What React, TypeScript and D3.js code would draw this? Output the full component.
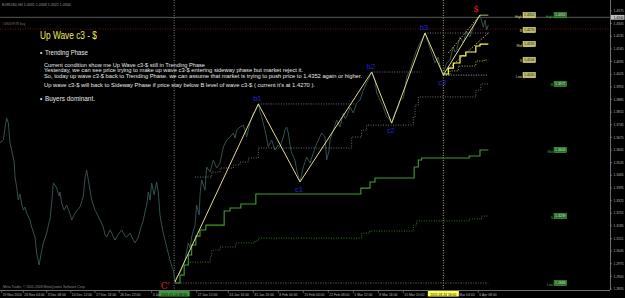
import React from "react";
import * as d3 from "d3";

const W = 625;
const H = 298;
const PLOT_R = 610;
const PLOT_B = 290;

// Close prices (H4 bar index, price)
const priceBars = [0,4,6,8,10,12,14,17,18,20,22,24,26,28,30,32,36,38,42,44,47,49,52,54,56,59,60,62,64,66,68,71,72,74,77,80,84,86,90,94,96,100,102,104,106,108,110,114,116,120,124,126,128,132,134,138,140,144,146,150,152,156,160,162,166,169,172,174,176,178,180,182,185,186,188,190,192,194,196,198,200,204,206,208,210,212,216,220,222,226,228,230,234,236,239,240,242,246,248,252,256,260,264,268,272,276,280,282,284,288,292,294,296,300,304,307,310,312,314,318,322,324,326,330,334,336,340,342,344,346,348,350,354,356,360,364,366,368,372,376,378,382,386,390,392,395,396,400,402,404,408,412,414,416,420,424,428,432,436,440,444,446,450,452,456,460,462,464,468,470,474,478,480,484,486,488,492,496,499,504,508,510,514,516,518,522,526,528,532,534,536,540,544,546,548,552,556,558,560,564,568,570,572,576,580,582,584,586];
const priceClose = [1.3644,1.3660,1.3727,1.3782,1.3754,1.3644,1.3605,1.3538,1.3455,1.3400,1.3328,1.3361,1.3306,1.3272,1.3289,1.3256,1.3217,1.3178,1.3123,1.3034,1.2968,1.3023,1.3090,1.3117,1.3145,1.3206,1.3217,1.3311,1.3422,1.3411,1.3394,1.3350,1.3372,1.3311,1.3272,1.3300,1.3250,1.3217,1.3256,1.3278,1.3289,1.3350,1.3450,1.3494,1.3439,1.3383,1.3328,1.3272,1.3256,1.3217,1.3178,1.3134,1.3123,1.3162,1.3145,1.3106,1.3123,1.3151,1.3162,1.3128,1.3123,1.3145,1.3106,1.3090,1.3123,1.3173,1.3217,1.3261,1.3300,1.3372,1.3328,1.3422,1.3356,1.3383,1.3428,1.3367,1.3245,1.3189,1.3145,1.3106,1.3068,1.2996,1.2962,1.2940,1.2874,1.2901,1.2924,1.2968,1.2996,1.3090,1.3062,1.3123,1.3189,1.3300,1.3245,1.3356,1.3439,1.3383,1.3511,1.3483,1.3550,1.3505,1.3533,1.3622,1.3660,1.3677,1.3699,1.3671,1.3716,1.3732,1.3743,1.3716,1.3677,1.3754,1.3810,1.3826,1.3860,1.3815,1.3788,1.3716,1.3622,1.3644,1.3660,1.3605,1.3633,1.3622,1.3677,1.3716,1.3732,1.3699,1.3633,1.3588,1.3550,1.3494,1.3428,1.3511,1.3538,1.3566,1.3533,1.3588,1.3616,1.3660,1.3699,1.3677,1.3550,1.3605,1.3660,1.3716,1.3743,1.3771,1.3732,1.3810,1.3782,1.3788,1.3843,1.3810,1.3865,1.3882,1.3937,1.3976,1.4015,1.4037,1.3993,1.3921,1.3882,1.3843,1.3815,1.3788,1.3771,1.3754,1.3810,1.3843,1.3882,1.3893,1.3948,1.4009,1.4048,1.4104,1.4148,1.4198,1.4231,1.4253,1.4198,1.4170,1.4142,1.4087,1.4120,1.4070,1.4020,1.4059,1.4087,1.4104,1.4176,1.4148,1.4159,1.4231,1.4198,1.4236,1.4259,1.4231,1.4286,1.4303,1.4325,1.4352,1.4286,1.4325,1.4270,1.4297];

// Wave pivots
const pivotNames = ["C'", "b1", "c1", "b2", "c2", "b3", "c3", "$"];
const pivotBars = [210, 310, 360, 446, 470, 510, 532, 576];
const pivotPrices = [1.2874, 1.3860, 1.3428, 1.4037, 1.3754, 1.4253, 1.4020, 1.4352];

// Stair (trailing level) lines
const greenStepBars = [210,216,221,226,230,235,240,247,269,276,289,307,433,444,450,497,502,506,563,576,586];
const greenStepLevels = [1.2868,1.2912,1.2968,1.3023,1.3079,1.3128,1.3162,1.3189,1.3267,1.3284,1.3306,1.3361,1.3394,1.3428,1.3450,1.3511,1.3550,1.3561,1.3572,1.3605,1.3605];
const greenDotBars = [228,252,254,264,283,306,310,434,444,496,500,563,578,586];
const greenDotLevels = [1.2984,1.3012,1.3051,1.3068,1.3090,1.3101,1.3117,1.3145,1.3156,1.3189,1.3212,1.3223,1.3239,1.3239];
const grayDotBars = [234,254,264,280,288,298,310,422,434,440,496,498,502,571,577,586];
const grayDotLevels = [1.3455,1.3483,1.3505,1.3522,1.3538,1.3561,1.3616,1.3677,1.3716,1.3743,1.3788,1.3854,1.3899,1.3937,1.3971,1.3971];
const yellowStepBars = [532,538,544,552,559,571,576,586];
const yellowStepLevels = [1.4026,1.4059,1.4087,1.4126,1.4148,1.4181,1.4192,1.4192];
const yellowDotBars = [532,540,550,571,581,586];
const yellowDotLevels = [1.4020,1.4043,1.4070,1.4098,1.4104,1.4104];

// Horizontal pivot levels
const levelStart = [310, 446, 510, 532, 210];
const levelEnd = [426, 504, 586, 586, 586];
const levelPrice = [1.3860, 1.4037, 1.4253, 1.4020, 1.2868];

// Channel segments of last wave
const channelStart = [538, 534, 576];
const channelStartPrice = [1.4142, 1.4037, 1.4352];
const channelEnd = [576, 586, 586];
const channelEndPrice = [1.4353, 1.4253, 1.4352];

// Level boxes
const boxNames = ["High", "B", "Mid", "S", "Low"];
const yellowBoxValues = [1.4352, 1.4270, 1.4192, 1.4104, 1.4020];
const greenBoxValues = [1.4352, 1.3971, 1.3605, 1.3239, 1.2868];

const bidPrice = 1.4340;
const orderPrice = 1.4275;
const markerBars = [209, 532];
const markerLabels = ["2011.01.10 08:00", "2011.03.24 16:00"];

const yTickLabels = ["1.2835","1.2905","1.2975","1.3045","1.3115","1.3185","1.3255","1.3325","1.3395","1.3465","1.3535","1.3605","1.3675","1.3745","1.3815","1.3885","1.3955","1.4025","1.4095","1.4165","1.4235","1.4305","1.4375"];
const xTickBars = [2, 28, 56, 85, 114, 143, 182, 236, 274, 304, 334, 364, 394, 424, 454, 484, 550, 574];
const xTickLabels = ["19 Nov 2010","26 Nov 04:00","3 Dec 08:00","10 Dec 12:00","17 Dec 16:00","26 Dec 22:00","3 Ja","17 Jan 12:00","24 Jan 16:00","31 Jan 20:00","8 Feb 00:00","15 Feb 04:00","22 Feb 08:00","1 Mar 12:00","8 Mar 16:00","15 Mar 20:00","Mar 04:00","6 Apr 08:00"];

const FONT = "'Liberation Sans', Arial, sans-serif";

export default function App() {
  const x = d3.scaleLinear().domain([0, 732]).range([0, 610]);
  const y = d3.scaleLinear().domain([1.2835, 1.4375]).range([289, 11]);

  const line = d3.line<[number, number]>().x(d => x(d[0])).y(d => y(d[1]));
  const step = d3.line<[number, number]>().x(d => x(d[0])).y(d => y(d[1])).curve(d3.curveStepAfter);

  const pricePts = priceBars.map((b, i) => [b, priceClose[i]] as [number, number]);
  const zig = pivotBars.map((b, i) => [b, pivotPrices[i]] as [number, number]);
  const pair = (bs: number[], ls: number[]) => bs.map((b, i) => [b, ls[i]] as [number, number]);

  return (
    <svg width={W} height={H} style={{ display: "block", position: "absolute", left: 0, top: 0, background: "#000" }}>
      <rect x={0} y={0} width={W} height={H} fill="#000" />
      <text x={2} y={5.5} fontSize={3.6} fill="#9a9a9a" fontFamily={FONT}>EURUSD,H4  1.4331 1.4348 1.4322 1.4340</text>
      <line x1={0} x2={PLOT_R} y1={y(bidPrice)} y2={y(bidPrice)} stroke="#6e6e6e" strokeWidth={0.8} />
      <line x1={0} x2={PLOT_R} y1={y(orderPrice)} y2={y(orderPrice)} stroke="#8b1a1a" strokeWidth={0.8} strokeDasharray="1,1.5" />
      <text x={2} y={25} fontSize={3.4} fill="#8a6a6a" fontFamily={FONT}>#18059978 buy</text>

      <line x1={x(markerBars[0])} x2={x(markerBars[0])} y1={0} y2={PLOT_B} stroke="#9a9a9a" strokeWidth={0.8} strokeDasharray="1,1.5" />
      <line x1={x(markerBars[1])} x2={x(markerBars[1])} y1={0} y2={PLOT_B} stroke="#d8d878" strokeWidth={0.8} strokeDasharray="1,1.5" />

      <path d={line(pricePts) || ""} fill="none" stroke="#355050" strokeWidth={1} />

      {levelStart.map((s, i) => (
        <line key={"lv" + i} x1={x(s)} x2={x(levelEnd[i])} y1={y(levelPrice[i])} y2={y(levelPrice[i])}
          stroke={i === 3 ? "#d0d0d0" : i === 4 ? "#4d6a4d" : "#8a8a8a"} strokeWidth={0.8}
          strokeDasharray={i === 4 ? "2,1,1,1" : "1,1.5"} />
      ))}

      <path d={step(pair(grayDotBars, grayDotLevels)) || ""} fill="none" stroke="#8a8a8a" strokeWidth={0.8} strokeDasharray="1,1.5" />
      <path d={step(pair(greenDotBars, greenDotLevels)) || ""} fill="none" stroke="#3f9a2f" strokeWidth={0.8} strokeDasharray="1,1.5" />
      <path d={step(pair(greenStepBars, greenStepLevels)) || ""} fill="none" stroke="#3f9f2f" strokeWidth={1.1} />
      <path d={step(pair(yellowDotBars, yellowDotLevels)) || ""} fill="none" stroke="#e8e860" strokeWidth={0.8} strokeDasharray="1,1.5" />
      <path d={step(pair(yellowStepBars, yellowStepLevels)) || ""} fill="none" stroke="#ffff5a" strokeWidth={1.2} />
      {channelStart.map((s, i) => (
        <line key={"ch" + i} x1={x(s)} x2={x(channelEnd[i])} y1={y(channelStartPrice[i])} y2={y(channelEndPrice[i])}
          stroke="#e6e690" strokeWidth={0.8} strokeDasharray={i === 2 ? undefined : "1.5,1.5"} />
      ))}

      <path d={line(zig) || ""} fill="none" stroke="#e4dc8a" strokeWidth={1} />

      {pivotNames.map((n, i) => {
        const px = x(pivotBars[i]);
        const py = y(pivotPrices[i]);
        if (n === "C'") return <text key={n} x={px - 5} y={py + 7} textAnchor="end" fontSize={9} fill="#e02020" fontFamily="'DejaVu Serif', serif">{n}</text>;
        if (n === "$") return <text key={n} x={px - 4} y={py - 3} textAnchor="middle" fontSize={9} fill="#e02020" fontFamily="'DejaVu Serif', serif">{n}</text>;
        const isB = n[0] === "b";
        return <text key={n} x={px - 1} y={isB ? py - 3 : py + 10} textAnchor="middle" fontSize={7.5} fill="#2424d0" fontFamily={FONT}>{n}</text>;
      })}

      {boxNames.map((n, i) => (
        <g key={"yb" + i}>
          <text x={522} y={y(yellowBoxValues[i]) + 2.5} textAnchor="end" fontSize={3.4} fill="#d8d870" fontFamily={FONT}>{n}</text>
          <rect x={523} y={y(yellowBoxValues[i]) - 2.7} width={12.5} height={5.4} fill="#bdbd6a" stroke="#e8e890" strokeWidth={0.5} />
          <text x={529.25} y={y(yellowBoxValues[i]) + 1.2} textAnchor="middle" fontSize={3.4} fill="#202000" fontFamily={FONT}>{yellowBoxValues[i].toFixed(4)}</text>
        </g>
      ))}
      {boxNames.map((n, i) => (
        <g key={"gb" + i}>
          <text x={553} y={y(greenBoxValues[i]) + 2.5} textAnchor="end" fontSize={3.4} fill="#3fa03f" fontFamily={FONT}>{n}</text>
          <rect x={554} y={y(greenBoxValues[i]) - 2.7} width={12.5} height={5.4} fill="#2a6a2a" stroke="#4fb04f" strokeWidth={0.5} />
          <text x={560.25} y={y(greenBoxValues[i]) + 1.2} textAnchor="middle" fontSize={3.4} fill="#cfe8cf" fontFamily={FONT}>{greenBoxValues[i].toFixed(4)}</text>
        </g>
      ))}

      <text x={40} y={39} fontSize={10} fill="#eeee55" fontFamily={FONT} textLength={57} lengthAdjust="spacingAndGlyphs">Up Wave c3 - $</text>
      <text x={40} y={55} fontSize={6.5} fill="#e8e8e8" fontFamily={FONT}>•</text>
      <text x={45} y={55} fontSize={6.5} fill="#e8e8e8" fontFamily={FONT} textLength={43} lengthAdjust="spacingAndGlyphs">Trending Phase</text>
      <text x={44} y={66.5} fontSize={5.8} fill="#e8e8e8" fontFamily={FONT} textLength={161} lengthAdjust="spacingAndGlyphs">Current condition show me Up Wave c3-$ still in Trending Phase</text>
      <text x={44} y={72} fontSize={5.8} fill="#e8e8e8" fontFamily={FONT} textLength={259} lengthAdjust="spacingAndGlyphs">Yesterday, we can see price trying to make up wave c3-$ entering sideway phase but market reject it.</text>
      <text x={44} y={77.5} fontSize={5.8} fill="#e8e8e8" fontFamily={FONT} textLength={318} lengthAdjust="spacingAndGlyphs">So, today up wave c3-$ back to Trending Phase. we can assume that market is trying to push price to 1.4352 again or higher.</text>
      <text x={44} y={87} fontSize={5.8} fill="#e8e8e8" fontFamily={FONT} textLength={271} lengthAdjust="spacingAndGlyphs">Up wave c3-$ will back to Sideway Phase if price stay below B level of wave c3-$ ( current it's at 1.4270 ).</text>
      <text x={40} y={101} fontSize={6.5} fill="#e8e8e8" fontFamily={FONT}>•</text>
      <text x={45} y={101} fontSize={6.5} fill="#e8e8e8" fontFamily={FONT} textLength={50} lengthAdjust="spacingAndGlyphs">Buyers dominant.</text>

      <text x={3} y={288} fontSize={3.4} fill="#8a8a8a" fontFamily={FONT}>Meta Trader, © 2001-2008 MetaQuotes Software Corp.</text>

      <line x1={PLOT_R + 0.5} x2={PLOT_R + 0.5} y1={0} y2={PLOT_B} stroke="#8a8a8a" strokeWidth={0.8} />
      {yTickLabels.map((t) => (
        <g key={t}>
          <line x1={PLOT_R} x2={PLOT_R + 2} y1={y(+t)} y2={y(+t)} stroke="#8a8a8a" strokeWidth={0.6} />
          <text x={PLOT_R + 3.5} y={y(+t) + 1.2} fontSize={3.3} fill="#b8b8b8" fontFamily={FONT}>{t}</text>
        </g>
      ))}
      <rect x={PLOT_R + 1} y={y(bidPrice) - 2.4} width={13.5} height={4.8} fill="#c0c0c0" />
      <text x={PLOT_R + 3.5} y={y(bidPrice) + 1.2} fontSize={3.3} fill="#000" fontFamily={FONT}>{bidPrice.toFixed(4)}</text>

      <line x1={0} x2={PLOT_R} y1={PLOT_B + 0.5} y2={PLOT_B + 0.5} stroke="#8a8a8a" strokeWidth={0.8} />
      {xTickLabels.map((t, i) => (
        <g key={t}>
          <line x1={x(xTickBars[i])} x2={x(xTickBars[i])} y1={PLOT_B} y2={PLOT_B + 3} stroke="#8a8a8a" strokeWidth={0.6} />
          <text x={x(xTickBars[i]) + 1} y={295.5} fontSize={3.4} fill="#b8b8b8" fontFamily={FONT}>{t}</text>
        </g>
      ))}
      <rect x={x(markerBars[0]) - 15.5} y={PLOT_B + 1} width={31} height={5.5} fill="#3a9a3a" />
      <text x={x(markerBars[0])} y={295.5} textAnchor="middle" fontSize={3.4} fill="#000" fontFamily={FONT}>{markerLabels[0]}</text>
      <rect x={x(markerBars[1]) - 15.5} y={PLOT_B + 1} width={31} height={5.5} fill="#ffff50" />
      <text x={x(markerBars[1])} y={295.5} textAnchor="middle" fontSize={3.4} fill="#000" fontFamily={FONT}>{markerLabels[1]}</text>
    </svg>
  );
}
